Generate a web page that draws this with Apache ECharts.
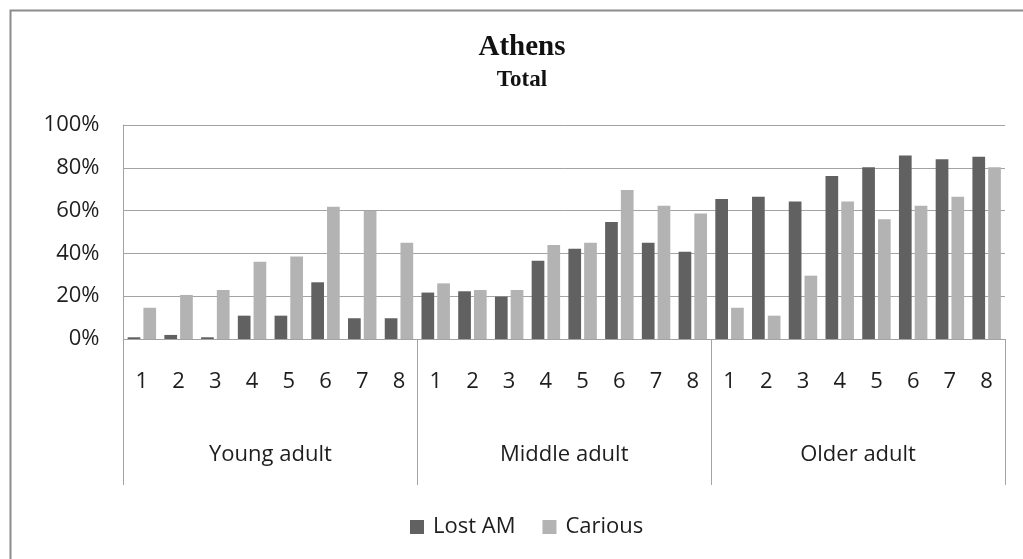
<!DOCTYPE html>
<html>
<head>
<meta charset="utf-8">
<script src="https://cdn.jsdelivr.net/npm/echarts@6/dist/echarts.min.js"></script>
<style>
  html, body { margin: 0; padding: 0; background: #ffffff; }
  #chart { width: 1023px; height: 559px; }
</style>
</head>
<body>
<div id="chart"></div>
<script>
// Age groups and tooth positions 1–8 inside each group
const groups = ['Young adult', 'Middle adult', 'Older adult'];
const positions = ['1', '2', '3', '4', '5', '6', '7', '8'];

// Percentage of teeth lost ante mortem, per group and position
const lostAM = [
  0.8, 1.9, 0.8, 10.9, 10.9, 26.5, 9.7, 9.7,
  21.7, 22.3, 19.8, 36.6, 42.2, 54.7, 45.0, 40.8,
  65.4, 66.5, 64.2, 76.2, 80.2, 85.8, 84.0, 85.2
];

// Percentage of carious teeth, per group and position
const carious = [
  14.6, 20.6, 22.9, 36.1, 38.5, 61.8, 59.8, 45.0,
  26.0, 22.9, 22.9, 43.9, 45.0, 69.6, 62.3, 58.7,
  14.6, 10.9, 29.6, 64.2, 55.9, 62.3, 66.5, 80.2
];

const yTicks = [0, 20, 40, 60, 80, 100];

// One category per group/position pair; the label shows the position only
const categories = [];
groups.forEach(g => positions.forEach(p => categories.push(g + '|' + p)));

const sans = '"Open Sans", "Noto Sans", sans-serif';
const serif = '"Liberation Serif", "DejaVu Serif", serif';
const textColor = '#1e1e1e';
const lineColor = '#a3a3a3';

const chart = echarts.init(document.getElementById('chart'), null, { renderer: 'canvas' });

chart.setOption({
  animation: false,
  backgroundColor: '#ffffff',
  graphic: [
    {
      type: 'rect',
      shape: { x: 10.5, y: 10.5, width: 1100, height: 700 },
      style: { fill: 'none', stroke: '#8c8c8c', lineWidth: 2 },
      silent: true
    },
    {
      type: 'text',
      x: 522, y: 48,
      style: {
        text: 'Athens', fill: '#111', font: 'bold 29px ' + serif,
        align: 'center', verticalAlign: 'middle'
      }
    },
    {
      type: 'text',
      x: 522, y: 80,
      style: {
        text: 'Total', fill: '#111', font: 'bold 23px ' + serif,
        align: 'center', verticalAlign: 'middle'
      }
    }
  ],
  grid: { left: 123.5, right: 18, top: 125, bottom: 220, containLabel: false },
  legend: {
    data: ['Lost AM', 'Carious'],
    left: 405,
    top: 511,
    icon: 'rect',
    itemWidth: 14,
    itemHeight: 14,
    itemGap: 27,
    textStyle: { fontFamily: sans, fontSize: 22, color: textColor, padding: [0, 0, 0, 4] }
  },
  xAxis: [
    {
      type: 'category',
      data: categories,
      position: 'bottom',
      axisLine: { show: true, lineStyle: { color: lineColor, width: 1 } },
      axisTick: { show: false },
      axisLabel: {
        interval: 0,
        margin: 32,
        fontFamily: sans,
        fontSize: 22,
        color: textColor,
        formatter: v => v.split('|')[1]
      }
    },
    {
      type: 'category',
      data: groups,
      position: 'bottom',
      gridIndex: 0,
      axisLine: { show: false },
      axisTick: {
        show: true,
        alignWithLabel: false,
        length: 146,
        lineStyle: { color: lineColor, width: 1 }
      },
      axisLabel: {
        interval: 0,
        margin: 105,
        fontFamily: sans,
        fontSize: 22,
        color: textColor
      }
    }
  ],
  yAxis: {
    type: 'value',
    min: yTicks[0],
    max: yTicks[yTicks.length - 1],
    interval: yTicks[1] - yTicks[0],
    axisLine: { show: true, lineStyle: { color: lineColor, width: 1 } },
    axisTick: { show: false },
    splitLine: { show: true, lineStyle: { color: lineColor, width: 1 } },
    axisLabel: {
      margin: 24,
      fontFamily: sans,
      fontSize: 22,
      color: textColor,
      formatter: '{value}%'
    }
  },
  series: [
    {
      name: 'Lost AM',
      type: 'bar',
      xAxisIndex: 0,
      data: lostAM,
      barWidth: 12.7,
      barGap: '24%',
      itemStyle: { color: '#616161' }
    },
    {
      name: 'Carious',
      type: 'bar',
      xAxisIndex: 0,
      data: carious,
      barWidth: 12.7,
      barGap: '24%',
      itemStyle: { color: '#b3b3b3' }
    }
  ]
});
</script>
</body>
</html>
